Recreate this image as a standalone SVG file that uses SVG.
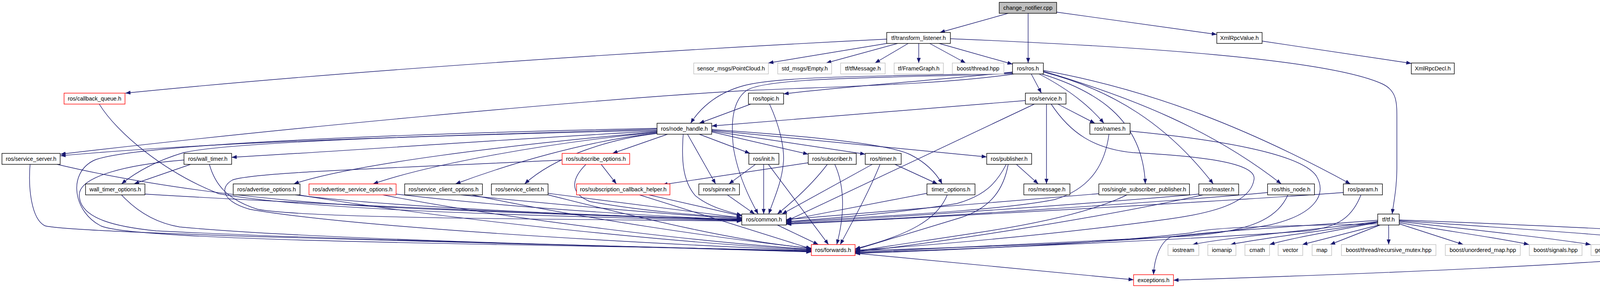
<svg xmlns="http://www.w3.org/2000/svg" width="4477" height="736" viewBox="0 0 4477 736">
<style>
rect{fill:#fff;stroke:#000;stroke-width:1.4}
.r rect{stroke:#ff0000}
.g rect{stroke:#bfbfbf}
.root rect{fill:#bfbfbf}
text{font-family:"Liberation Sans",Arial,sans-serif;font-size:14.5px;text-anchor:middle;fill:#000}
#edges path{fill:none;stroke:#191970;stroke-width:1.4;marker-end:url(#a)}
</style>
<defs>
<marker id="a" markerUnits="userSpaceOnUse" markerWidth="14" markerHeight="10" refX="13" refY="5" orient="auto" viewBox="0 0 14 10"><path d="M0,0 L13,5 L0,10 z" fill="#191970"/></marker>
</defs>
<rect x="0" y="0" width="4477" height="736" style="fill:#fff;stroke:none"/>
<g id="edges">
<path d="M2581,34 L2406,83"/>
<path d="M2632,34 L2632,161"/>
<path d="M2705,31 L3115,88"/>
<path d="M2270,100 C1700,128 900,180 321,238"/>
<path d="M2270,111 L1967,161"/>
<path d="M2298,111 L2115,161"/>
<path d="M2325,111 L2240,161"/>
<path d="M2352,111 L2352,161"/>
<path d="M2380,111 L2472,161"/>
<path d="M2404,111 L2592,164"/>
<path d="M2433,99 C2900,118 3400,150 3540,215 C3575,232 3576,260 3576,300 L3576,430 C3576,480 3568,515 3564,547"/>
<path d="M3231,105 L3613,162"/>
<path d="M2592,184 C2400,205 2150,222 2006,240"/>
<path d="M2592,186 C2350,196 2000,190 1900,220 C1830,240 1790,280 1768,315"/>
<path d="M2592,188 C2300,200 1960,195 1910,232 C1870,262 1872,330 1878,380 C1890,450 1920,510 1941,547"/>
<path d="M2640,189 L2666,238"/>
<path d="M2660,189 C2720,220 2780,260 2826,315"/>
<path d="M2708,266 L2803,315"/>
<path d="M2625,257 L1822,322"/>
<path d="M1922,266 L1790,315"/>
<path d="M1970,266 C1995,320 2010,380 2005,420 C2000,470 1980,510 1968,547"/>
<path d="M2596,189 C2400,218 2100,222 1900,232 C1500,255 700,330 155,394"/>
<path d="M1682,333 C1200,345 600,358 155,398"/>
<path d="M1682,335 C1300,355 900,385 593,402"/>
<path d="M1682,330 C1200,345 600,360 470,390 C420,405 360,430 311,470"/>
<path d="M1682,328 C1000,342 330,370 240,410 C170,445 190,545 260,578 C360,620 1500,625 2077,641"/>
<path d="M488,420 L343,470"/>
<path d="M471,409 C330,420 200,450 203,500 C205,560 300,580 400,590 C900,615 1600,628 2077,643"/>
<path d="M536,420 C550,470 580,510 660,535 C800,560 1500,560 1899,565"/>
<path d="M371,496 C800,522 1500,550 1899,562"/>
<path d="M311,498 C350,540 400,570 460,580 C800,612 1600,630 2077,642"/>
<path d="M77,420 C72,480 80,560 115,577 C200,600 1500,625 2077,644"/>
<path d="M146,420 C400,480 700,515 1000,530 C1400,548 1700,556 1899,563"/>
<path d="M254,266 C300,340 420,440 560,495 C800,540 1500,555 1899,564"/>
<path d="M1682,337 C1300,370 900,420 752,470"/>
<path d="M1682,338 C1400,365 1100,420 955,470"/>
<path d="M1682,340 C1500,360 1300,420 1166,470"/>
<path d="M1682,341 C1560,355 1420,400 1343,470"/>
<path d="M1709,343 L1568,392"/>
<path d="M1749,343 C1745,400 1745,460 1780,500 C1810,525 1850,538 1899,550"/>
<path d="M1760,343 L1832,470"/>
<path d="M1790,343 L1920,392"/>
<path d="M1822,337 L2069,394"/>
<path d="M1822,335 L2215,394"/>
<path d="M1822,333 L2526,401"/>
<path d="M1822,331 C2100,350 2280,370 2330,395 C2370,415 2395,440 2412,470"/>
<path d="M1539,420 L1578,470"/>
<path d="M1439,409 C1000,430 650,440 595,460 C560,480 570,515 640,535 C900,580 1600,620 2077,640"/>
<path d="M1500,420 C1470,450 1450,490 1510,515 C1650,540 1800,552 1899,556"/>
<path d="M1661,498 L1899,552"/>
<path d="M1637,498 L2077,636"/>
<path d="M756,498 C1000,530 1600,555 1899,560"/>
<path d="M764,498 C1200,570 1800,625 2077,638"/>
<path d="M1014,496 C1300,530 1700,555 1899,561"/>
<path d="M980,498 C1300,560 1800,620 2077,637"/>
<path d="M1180,498 C1500,530 1750,550 1899,559"/>
<path d="M1208,498 C1500,560 1850,610 2077,635"/>
<path d="M1403,494 C1600,520 1800,545 1899,557"/>
<path d="M1403,498 C1650,560 1900,620 2077,634"/>
<path d="M1862,498 L1932,547"/>
<path d="M1934,420 L1866,470"/>
<path d="M1955,420 L1955,547"/>
<path d="M1967,420 L2121,625"/>
<path d="M2069,416 L1696,472"/>
<path d="M2118,420 C2080,470 2030,515 1990,547"/>
<path d="M2137,420 C2160,470 2165,540 2142,625"/>
<path d="M2233,420 L2002,547"/>
<path d="M2253,420 C2220,500 2180,570 2151,625"/>
<path d="M2291,420 L2400,470"/>
<path d="M2373,494 L2013,563"/>
<path d="M2425,498 C2400,560 2330,600 2189,636"/>
<path d="M1990,575 L2095,625"/>
<path d="M2189,647 L2902,715"/>
<path d="M2602,420 L2658,470"/>
<path d="M2679,266 L2679,470"/>
<path d="M2576,420 C2550,470 2520,500 2450,520 C2300,545 2100,560 2013,566"/>
<path d="M2581,420 C2570,480 2540,530 2460,556 C2350,590 2250,620 2189,638"/>
<path d="M2648,266 L2013,565"/>
<path d="M2839,343 C2830,410 2800,480 2700,510 C2550,540 2200,555 2013,568"/>
<path d="M2893,335 C3100,355 3330,390 3370,450 C3400,500 3360,550 3250,575 C3000,620 2500,630 2189,641"/>
<path d="M2691,266 C2740,340 2800,380 2900,390 C3100,400 3220,420 3210,460 C3200,520 3100,545 2990,560 C2700,600 2400,625 2189,640"/>
<path d="M2813,495 L2013,561"/>
<path d="M2885,498 C2820,530 2700,565 2500,595 C2350,618 2250,632 2189,643"/>
<path d="M2667,189 C2800,230 2925,300 2932,470"/>
<path d="M2671,184 C2850,230 2990,320 3106,470"/>
<path d="M2671,182 C2900,250 3100,330 3280,470"/>
<path d="M2671,180 C2950,230 3200,330 3457,470"/>
<path d="M3069,496 C2800,520 2300,555 2013,570"/>
<path d="M3080,498 C2800,560 2400,620 2189,644"/>
<path d="M3245,492 C3000,515 2400,555 2013,572"/>
<path d="M3297,498 C3270,560 3200,590 3050,603 C2700,620 2400,635 2189,645"/>
<path d="M3439,492 C3200,510 2500,550 2013,573"/>
<path d="M3484,498 C3460,560 3420,580 3350,590 C3000,615 2500,635 2189,646"/>
<path d="M3527,566 C3350,590 3150,605 3053,625"/>
<path d="M3527,567 C3400,590 3250,605 3150,625"/>
<path d="M3527,568 C3420,590 3320,605 3250,625"/>
<path d="M3530,575 L3334,625"/>
<path d="M3533,575 L3405,625"/>
<path d="M3555,575 L3555,625"/>
<path d="M3582,572 L3746,625"/>
<path d="M3582,569 C3700,590 3850,610 3914,625"/>
<path d="M3582,566 C3800,590 3980,610 4072,625"/>
<path d="M3582,564 C3900,585 4200,605 4326,625"/>
<path d="M3582,562 C3900,575 4350,590 4455,618 C4475,630 4465,670 4452,702"/>
<path d="M4395,653 L4425,702"/>
<path d="M4325,651 C4000,680 3500,700 3004,716"/>
<path d="M3527,563 C3300,580 3050,595 2996,606 C2970,620 2955,660 2953,702"/>
<path d="M3527,572 C3250,578 3100,580 3050,595 C2800,625 2400,640 2189,648"/>
</g>
<g id="n_change_notifier" class="root"><rect x="2558" y="6" width="147" height="28"/><text x="2631.5" y="25">change_notifier.cpp</text></g>
<g id="n_transform_listener"><rect x="2270" y="83" width="163" height="28"/><text x="2351.5" y="102">tf/transform_listener.h</text></g>
<g id="n_xmlrpcvalue"><rect x="3115" y="83" width="116" height="28"/><text x="3173" y="102">XmlRpcValue.h</text></g>
<g id="n_pointcloud" class="g"><rect x="1776" y="161" width="191" height="28"/><text x="1871.5" y="180">sensor_msgs/PointCloud.h</text></g>
<g id="n_empty" class="g"><rect x="1991" y="161" width="138" height="28"/><text x="2060" y="180">std_msgs/Empty.h</text></g>
<g id="n_tfmessage" class="g"><rect x="2152" y="161" width="114" height="28"/><text x="2209" y="180">tf/tfMessage.h</text></g>
<g id="n_framegraph" class="g"><rect x="2289" y="161" width="126" height="28"/><text x="2352" y="180">tf/FrameGraph.h</text></g>
<g id="n_boost_thread" class="g"><rect x="2438" y="161" width="132" height="28"/><text x="2504" y="180">boost/thread.hpp</text></g>
<g id="n_ros"><rect x="2592" y="161" width="79" height="28"/><text x="2631.5" y="180">ros/ros.h</text></g>
<g id="n_xmlrpcdecl"><rect x="3613" y="161" width="110" height="28"/><text x="3668" y="180">XmlRpcDecl.h</text></g>
<g id="n_callback_queue" class="r"><rect x="164" y="238" width="156" height="28"/><text x="242" y="257">ros/callback_queue.h</text></g>
<g id="n_topic"><rect x="1916" y="238" width="90" height="28"/><text x="1961" y="257">ros/topic.h</text></g>
<g id="n_service"><rect x="2625" y="238" width="104" height="28"/><text x="2677" y="257">ros/service.h</text></g>
<g id="n_node_handle"><rect x="1682" y="315" width="140" height="28"/><text x="1752" y="334">ros/node_handle.h</text></g>
<g id="n_names"><rect x="2790" y="315" width="103" height="28"/><text x="2841.5" y="334">ros/names.h</text></g>
<g id="n_service_server"><rect x="5" y="392" width="149" height="28"/><text x="79.5" y="411">ros/service_server.h</text></g>
<g id="n_wall_timer"><rect x="471" y="392" width="122" height="28"/><text x="532" y="411">ros/wall_timer.h</text></g>
<g id="n_subscribe_options" class="r"><rect x="1439" y="392" width="173" height="28"/><text x="1525.5" y="411">ros/subscribe_options.h</text></g>
<g id="n_init"><rect x="1917" y="392" width="77" height="28"/><text x="1955.5" y="411">ros/init.h</text></g>
<g id="n_subscriber"><rect x="2069" y="392" width="123" height="28"/><text x="2130.5" y="411">ros/subscriber.h</text></g>
<g id="n_timer"><rect x="2215" y="392" width="92" height="28"/><text x="2261" y="411">ros/timer.h</text></g>
<g id="n_publisher"><rect x="2526" y="392" width="115" height="28"/><text x="2583.5" y="411">ros/publisher.h</text></g>
<g id="n_wall_timer_options"><rect x="219" y="470" width="152" height="28"/><text x="295" y="489">wall_timer_options.h</text></g>
<g id="n_advertise_options"><rect x="597" y="470" width="171" height="28"/><text x="682.5" y="489">ros/advertise_options.h</text></g>
<g id="n_advertise_service_options" class="r"><rect x="791" y="470" width="223" height="28"/><text x="902.5" y="489">ros/advertise_service_options.h</text></g>
<g id="n_service_client_options"><rect x="1036" y="470" width="199" height="28"/><text x="1135.5" y="489">ros/service_client_options.h</text></g>
<g id="n_service_client"><rect x="1258" y="470" width="145" height="28"/><text x="1330.5" y="489">ros/service_client.h</text></g>
<g id="n_subscription_callback_helper" class="r"><rect x="1476" y="470" width="239" height="28"/><text x="1595.5" y="489">ros/subscription_callback_helper.h</text></g>
<g id="n_spinner"><rect x="1789" y="470" width="104" height="28"/><text x="1841" y="489">ros/spinner.h</text></g>
<g id="n_timer_options"><rect x="2373" y="470" width="123" height="28"/><text x="2434.5" y="489">timer_options.h</text></g>
<g id="n_message"><rect x="2621" y="470" width="118" height="28"/><text x="2680" y="489">ros/message.h</text></g>
<g id="n_single_subscriber_publisher"><rect x="2813" y="470" width="232" height="28"/><text x="2929" y="489">ros/single_subscriber_publisher.h</text></g>
<g id="n_master"><rect x="3069" y="470" width="102" height="28"/><text x="3120" y="489">ros/master.h</text></g>
<g id="n_this_node"><rect x="3245" y="470" width="120" height="28"/><text x="3305" y="489">ros/this_node.h</text></g>
<g id="n_param"><rect x="3439" y="470" width="100" height="28"/><text x="3489" y="489">ros/param.h</text></g>
<g id="n_common"><rect x="1899" y="547" width="114" height="28"/><text x="1956" y="566">ros/common.h</text></g>
<g id="n_tf"><rect x="3527" y="547" width="55" height="28"/><text x="3554.5" y="566">tf/tf.h</text></g>
<g id="n_forwards" class="r"><rect x="2077" y="625" width="112" height="28"/><text x="2133" y="644">ros/forwards.h</text></g>
<g id="n_iostream" class="g"><rect x="2990" y="625" width="79" height="28"/><text x="3029.5" y="644">iostream</text></g>
<g id="n_iomanip" class="g"><rect x="3092" y="625" width="72" height="28"/><text x="3128" y="644">iomanip</text></g>
<g id="n_cmath" class="g"><rect x="3187" y="625" width="63" height="28"/><text x="3218.5" y="644">cmath</text></g>
<g id="n_vector" class="g"><rect x="3272" y="625" width="63" height="28"/><text x="3303.5" y="644">vector</text></g>
<g id="n_map" class="g"><rect x="3359" y="625" width="50" height="28"/><text x="3384" y="644">map</text></g>
<g id="n_recursive_mutex" class="g"><rect x="3434" y="625" width="242" height="28"/><text x="3555" y="644">boost/thread/recursive_mutex.hpp</text></g>
<g id="n_unordered_map" class="g"><rect x="3700" y="625" width="192" height="28"/><text x="3796" y="644">boost/unordered_map.hpp</text></g>
<g id="n_signals" class="g"><rect x="3915" y="625" width="135" height="28"/><text x="3982.5" y="644">boost/signals.hpp</text></g>
<g id="n_twiststamped" class="g"><rect x="4073" y="625" width="230" height="28"/><text x="4188" y="644">geometry_msgs/TwistStamped.h</text></g>
<g id="n_time_cache" class="r"><rect x="4325" y="625" width="122" height="28"/><text x="4386" y="644">tf/time_cache.h</text></g>
<g id="n_exceptions" class="r"><rect x="2902" y="702" width="102" height="28"/><text x="2953" y="721">exceptions.h</text></g>
<g id="n_sstream" class="g"><rect x="4397" y="702" width="75" height="28"/><text x="4434.5" y="721">sstream</text></g>
</svg>
